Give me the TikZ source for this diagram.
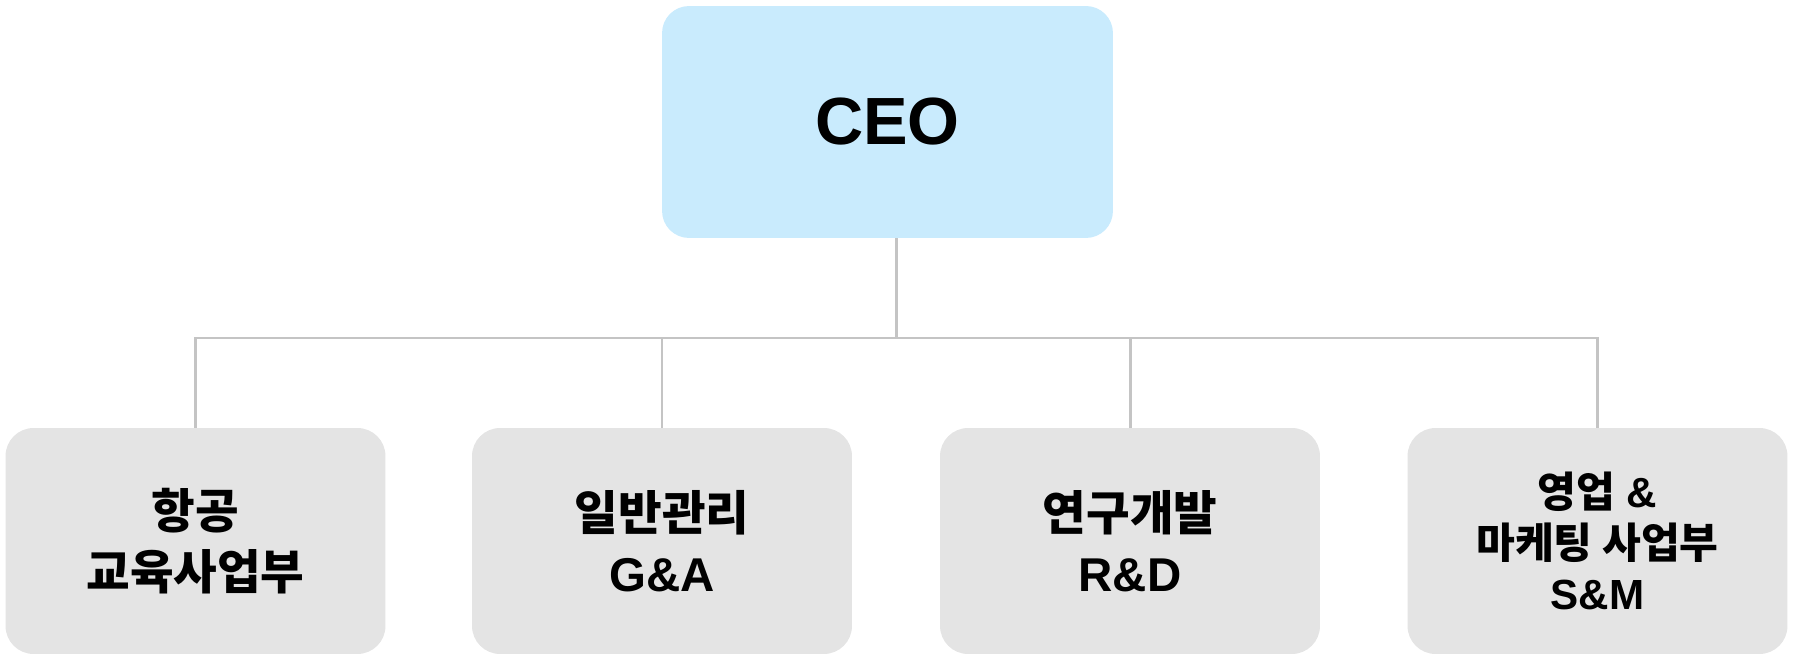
\documentclass[tikz,border=0pt]{standalone}
\usepackage{fontspec}
\setmainfont{Liberation Sans}
\newfontfamily\krfont{Noto Sans CJK KR Bold}
\newcommand{\kr}[1]{{\krfont #1}}
\definecolor{ceoblue}{HTML}{C9EBFD}
\definecolor{unitgray}{HTML}{E4E4E4}
\definecolor{linegray}{HTML}{C4C4C4}

\begin{document}
\begin{tikzpicture}[
  x=0.02cm, y=-0.02cm,
  ceobox/.style={
    fill=ceoblue, rounded corners=0.54cm,
    minimum width=9.02cm, minimum height=4.64cm,
    font=\fontsize{38}{44}\selectfont\bfseries
  },
  unit/.style={
    fill=unitgray, rounded corners=0.56cm,
    minimum width=7.6cm, minimum height=4.52cm, align=center,
    font=\fontsize{27}{35}\selectfont\bfseries
  },
  tight/.style={
    font=\fontsize{24}{29}\selectfont\bfseries
  },
  link/.style={
    draw=linegray, line width=1.7pt
  }
]

% page frame
\useasboundingbox (0,0) rectangle (1793,662);

% geometry
\def\busy{338}        % horizontal bus
\def\unity{541}       % centre line of the units

% boxes
\node[ceobox] (ceo) at (887.5,122) {CEO};
\node[unit] (avia) at (195.5,\unity) {\kr{항공}\\\kr{교육사업부}};
\node[unit] (gna)  at (662,\unity)   {\kr{일반관리}\\G\&A};
\node[unit] (rnd)  at (1130,\unity)  {\kr{연구개발}\\R\&D};
\node[unit, tight] (snm) at (1597.5,\unity) {\kr{영업} \&\\\kr{마케팅 사업부}\\S\&M};

% connectors
\coordinate (hub) at (896,\busy);
\draw[link] (ceo.south -| hub) -- (hub);
\draw[link] (avia.north) -- (avia.north |- hub) -- (snm.north |- hub) -- (snm.north);
\draw[link] (gna.north) -- (gna.north |- hub);
\draw[link] (rnd.north) -- (rnd.north |- hub);

\end{tikzpicture}
\end{document}
